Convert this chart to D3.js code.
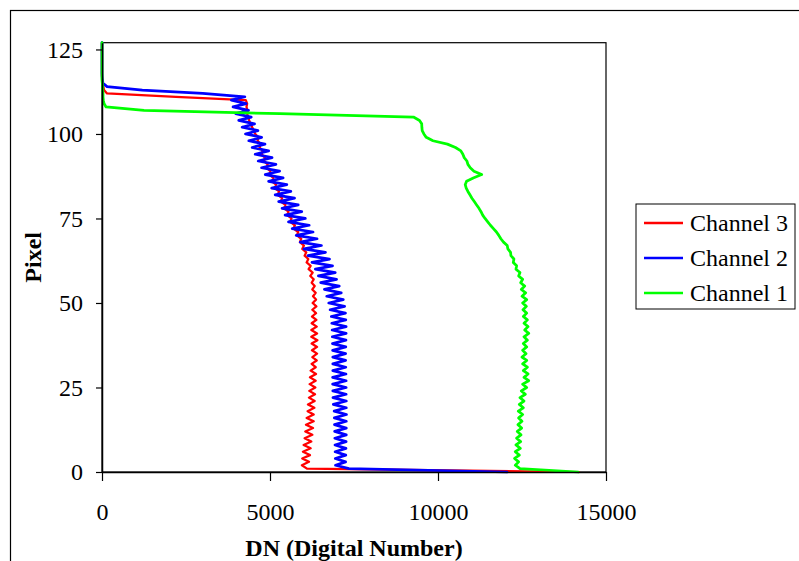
<!DOCTYPE html>
<html>
<head>
<meta charset="utf-8">
<script src="https://cdn.jsdelivr.net/npm/d3@7"></script>
<style>
  body { margin: 0; background: #fff; }
  svg { display: block; }
</style>
</head>
<body>
<svg id="chart" width="799" height="561"></svg>
<script>
// Detector rows (pixel index 0..127)
const pixels = d3.range(0, 128);

// Channel 3 DN per pixel row
const channel3 = [
  14200, 6100, 5950, 6160, 5960, 6190, 5980, 6210, 6000, 6230,
  6030, 6260, 6050, 6280, 6070, 6300, 6090, 6300, 6120, 6320,
  6130, 6330, 6160, 6340, 6170, 6350, 6180, 6360, 6190, 6370,
  6210, 6360, 6240, 6390, 6260, 6400, 6250, 6400, 6240, 6410,
  6230, 6400, 6230, 6390, 6240, 6380, 6250, 6370, 6260, 6380,
  6270, 6370, 6280, 6360, 6260, 6330, 6240, 6300, 6200, 6270,
  6150, 6210, 6090, 6140, 6030, 6080, 5960, 6010, 5890, 5930,
  5800, 5840, 5700, 5740, 5600, 5640, 5510, 5550, 5420, 5460,
  5320, 5360, 5230, 5270, 5140, 5180, 5060, 5100, 4980, 5010,
  4900, 4930, 4820, 4850, 4750, 4780, 4690, 4720, 4630, 4660,
  4560, 4520, 4470, 4420, 4380, 4350, 4320, 4330, 4300, 4320,
  4280, 2200, 150, 60, 40, 20, 10, 0, 0, 0,
  0, 0, 0, 0, 0, 0, 0, 0
];

// Channel 2 DN per pixel row
const channel2 = [
  12050, 7350, 6950, 7250, 6945, 7255, 6940, 7260, 6935, 7265,
  6930, 7270, 6925, 7270, 6920, 7270, 6915, 7275, 6910, 7270,
  6885, 7270, 6875, 7265, 6870, 7265, 6865, 7265, 6865, 7260,
  6870, 7255, 6870, 7250, 6870, 7250, 6865, 7255, 6860, 7260,
  6855, 7265, 6850, 7265, 6840, 7255, 6825, 7245, 6790, 7220,
  6750, 7180, 6690, 7120, 6620, 7060, 6510, 6980, 6440, 6940,
  6350, 6860, 6250, 6770, 6130, 6650, 6010, 6530, 5900, 6400,
  5780, 6280, 5660, 6165, 5550, 6050, 5450, 5945, 5360, 5840,
  5260, 5730, 5155, 5620, 5050, 5500, 4960, 5390, 4860, 5285,
  4750, 5175, 4650, 5060, 4560, 4960, 4470, 4850, 4370, 4750,
  4270, 4640, 4170, 4540, 4070, 4440, 3980, 4360, 3900, 4290,
  3850, 4250, 3000, 1200, 150, 30, 10, 5, 0, 0,
  0, 0, 0, 0, 0, 0, 0, 0
];

// Channel 1 DN per pixel row
const channel1 = [
  14170, 12440, 12300, 12400, 12280, 12420, 12300, 12450, 12320, 12460,
  12340, 12470, 12360, 12490, 12380, 12500, 12400, 12520, 12390, 12540,
  12420, 12560, 12440, 12600, 12480, 12640, 12520, 12700, 12560, 12680,
  12540, 12660, 12520, 12640, 12500, 12620, 12520, 12640, 12540, 12660,
  12560, 12700, 12580, 12680, 12560, 12660, 12540, 12640, 12530, 12630,
  12520, 12640, 12500, 12610, 12480, 12580, 12460, 12520, 12400, 12440,
  12320, 12340, 12240, 12260, 12170, 12160, 12080, 12060, 11950, 11870,
  11810, 11740, 11650, 11560, 11480, 11400, 11330, 11280, 11220, 11150,
  11080, 11010, 10950, 10890, 10840, 10810, 10850, 11050, 11300, 11070,
  10960, 10890, 10860, 10780, 10740, 10680, 10520, 10280, 9850, 9650,
  9580, 9530, 9520, 9515, 9450, 9270, 5300, 1250, 120, 60,
  40, 30, 30, 20, 20, 10, 0, 0, 0, 0,
  0, 0, 0, 0, 0, 0, 0, 0
];

const seriesNames = ["Channel 3", "Channel 2", "Channel 1"];
const seriesColors = ["#ff0000", "#0000ff", "#00ff00"];
const seriesWidths = [2.25, 2.75, 2.75];
const xTicks = [0, 5000, 10000, 15000];
const yTicks = [0, 25, 50, 75, 100, 125];
const xTitle = "DN (Digital Number)";
const yTitle = "Pixel";

const FONT = "'Times New Roman', 'Liberation Serif', 'DejaVu Serif', serif";

const svg = d3.select("#chart");
const plot = { left: 102, right: 606, top: 42.7, bottom: 472 };

const x = d3.scaleLinear().domain([0, 15000]).range([plot.left, plot.right]);
const y = d3.scaleLinear().domain([0, 127]).range([plot.bottom, plot.top]);

// outer chart frame (runs off the right and bottom edges)
svg.append("rect")
  .attr("x", 10.5).attr("y", 10.5)
  .attr("width", 900).attr("height", 700)
  .attr("fill", "none").attr("stroke", "#000").attr("stroke-width", 1.2);

// plot area border
svg.append("rect")
  .attr("x", plot.left).attr("y", plot.top)
  .attr("width", plot.right - plot.left).attr("height", plot.bottom - plot.top)
  .attr("fill", "none").attr("stroke", "#000").attr("stroke-width", 1.2);

// series
const series = [channel3, channel2, channel1];
const line = d3.line()
  .x(d => x(d[1]))
  .y(d => y(d[0]));

series.forEach((vals, i) => {
  svg.append("path")
    .datum(pixels.map(p => [p, vals[p]]))
    .attr("d", line)
    .attr("fill", "none")
    .attr("stroke", seriesColors[i])
    .attr("stroke-width", seriesWidths[i])
    .attr("stroke-linejoin", "round")
    .attr("stroke-linecap", "round");
});

// axes
const yAxis = svg.append("g")
  .attr("transform", `translate(${plot.left},0)`)
  .call(d3.axisLeft(y).tickValues(yTicks).tickSize(6).tickPadding(13).tickSizeOuter(0));
const xAxis = svg.append("g")
  .attr("transform", `translate(0,${plot.bottom})`)
  .call(d3.axisBottom(x).tickValues(xTicks).tickFormat(d3.format("d")).tickSize(9).tickPadding(22).tickSizeOuter(0));

[yAxis, xAxis].forEach(g => {
  g.attr("font-family", null).attr("font-size", null);
  g.select(".domain").attr("stroke", "#000").attr("stroke-width", 1.5);
  g.selectAll(".tick line").attr("stroke", "#000").attr("stroke-width", 1.2);
  g.selectAll(".tick text")
    .style("font-family", FONT)
    .style("font-size", "24px").style("fill", "#000");
});

// axis titles
svg.append("text")
  .attr("x", (plot.left + plot.right) / 2).attr("y", 556)
  .attr("text-anchor", "middle")
  .style("font-family", FONT).style("font-size", "24px").style("font-weight", "bold")
  .text(xTitle);

svg.append("text")
  .attr("transform", `translate(41,${(plot.top + plot.bottom) / 2}) rotate(-90)`)
  .attr("text-anchor", "middle")
  .style("font-family", FONT).style("font-size", "24px").style("font-weight", "bold")
  .text(yTitle);

// legend
const legend = svg.append("g");
legend.append("rect")
  .attr("x", 636).attr("y", 204).attr("width", 159).attr("height", 105)
  .attr("fill", "#fff").attr("stroke", "#000").attr("stroke-width", 1);

seriesNames.forEach((name, i) => {
  const ly = 223 + i * 35;
  legend.append("line")
    .attr("x1", 644).attr("x2", 683).attr("y1", ly).attr("y2", ly)
    .attr("stroke", seriesColors[i]).attr("stroke-width", 2.5);
  legend.append("text")
    .attr("x", 690).attr("y", ly).attr("dy", "0.33em")
    .style("font-family", FONT).style("font-size", "24px")
    .text(name);
});
</script>
</body>
</html>
